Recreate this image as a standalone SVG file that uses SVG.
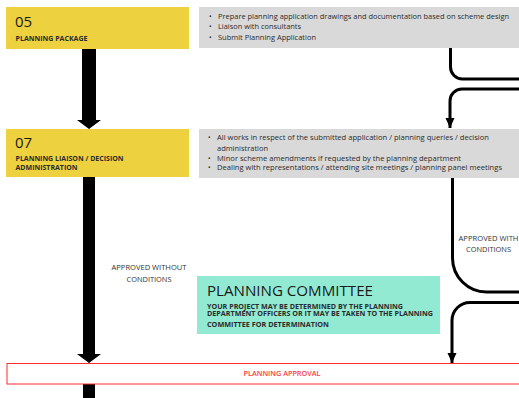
<svg xmlns="http://www.w3.org/2000/svg" width="519" height="398" viewBox="0 0 519 398">
<defs>
<style>
text{font-family:"Open Sans","DejaVu Sans",sans-serif;}
.yel{fill:#EDD13F;}
.gry{fill:#D9D9D9;}
.num{font-size:15px;fill:#1a1a1a;}
.ttl{font-size:6.4px;font-weight:bold;fill:#2b2b2b;}
.bul{font-size:6.8px;fill:#2b2b2b;}
.lbl{font-size:6.8px;fill:#333;text-anchor:middle;}
.con{fill:none;stroke:#000;stroke-width:3;}
.big{fill:#000;}
</style>
<marker id="ah" viewBox="0 0 10 10" refX="10" refY="5" markerWidth="10" markerHeight="10" markerUnits="userSpaceOnUse" orient="auto">
<path d="M0,0.5 L10,5 L0,9.5 Z" fill="#000"/>
</marker>
</defs>
<rect width="519" height="398" fill="#fff"/>

<g id="connectors">
<path class="big" d="M82,49 H96 V120 H101 L89,129 L77,120 H82 Z"/>
<path class="big" d="M83,177 H95 V354 H101 L89,363 L77,354 H83 Z"/>
<rect class="big" x="83" y="384" width="12" height="14"/>
<path class="con" d="M450.5,48 V67 A12,12 0 0 0 462.5,79 H519"/>
<path class="con" d="M519,89 H462 A12,12 0 0 0 450,101 V128" marker-end="url(#ah)"/>
<path class="con" d="M452.5,178 V258 A34,34 0 0 0 486.5,292 H519"/>
<path class="con" d="M519,302.5 H470 A18,18 0 0 0 452,320.5 V363" marker-end="url(#ah)"/>
<text class="lbl" x="149" y="270" textLength="75" lengthAdjust="spacingAndGlyphs">APPROVED WITHOUT</text>
<text class="lbl" x="149" y="282" textLength="45" lengthAdjust="spacingAndGlyphs">CONDITIONS</text>
<text class="lbl" x="488.5" y="240.5" textLength="60" lengthAdjust="spacingAndGlyphs">APPROVED WITH</text>
<text class="lbl" x="488.5" y="251.5" textLength="45" lengthAdjust="spacingAndGlyphs">CONDITIONS</text>
</g>

<g id="n05">
<rect class="yel" x="6" y="7" width="183" height="42"/>
<text class="num" x="15" y="27.3">05</text>
<text class="ttl" x="15.5" y="41" textLength="72" lengthAdjust="spacingAndGlyphs">PLANNING PACKAGE</text>
</g>

<g id="d05">
<rect class="gry" x="199" y="7" width="320" height="41"/>
<text class="bul" x="209" y="18.5">•</text>
<text class="bul" x="218" y="18.5" textLength="291" lengthAdjust="spacingAndGlyphs">Prepare planning application drawings and documentation based on scheme design</text>
<text class="bul" x="209" y="29">•</text>
<text class="bul" x="218" y="29" textLength="83" lengthAdjust="spacingAndGlyphs">Liaison with consultants</text>
<text class="bul" x="209" y="39.5">•</text>
<text class="bul" x="218" y="39.5" textLength="98" lengthAdjust="spacingAndGlyphs">Submit Planning Application</text>
</g>

<g id="n07">
<rect class="yel" x="6" y="129" width="183" height="48"/>
<text class="num" x="15" y="148.3">07</text>
<text class="ttl" x="15.5" y="161" textLength="108" lengthAdjust="spacingAndGlyphs">PLANNING LIAISON / DECISION</text>
<text class="ttl" x="15.5" y="170" textLength="62" lengthAdjust="spacingAndGlyphs">ADMINISTRATION</text>
</g>

<g id="d07">
<rect class="gry" x="199" y="129" width="320" height="49"/>
<text class="bul" x="208" y="139.5">•</text>
<text class="bul" x="217" y="139.5" textLength="272" lengthAdjust="spacingAndGlyphs">All works in respect of the submitted application / planning queries / decision</text>
<text class="bul" x="217" y="150.5" textLength="51" lengthAdjust="spacingAndGlyphs">administration</text>
<text class="bul" x="208" y="161">•</text>
<text class="bul" x="217" y="161" textLength="244" lengthAdjust="spacingAndGlyphs">Minor scheme amendments if requested by the planning department</text>
<text class="bul" x="208" y="169.5">•</text>
<text class="bul" x="217" y="169.5" textLength="285" lengthAdjust="spacingAndGlyphs">Dealing with representations / attending site meetings / planning panel meetings</text>
</g>

<g id="committee">
<rect x="197" y="276" width="243" height="58" fill="#93EAD3"/>
<text x="207" y="296" font-size="14" fill="#1a1a1a" textLength="166" lengthAdjust="spacingAndGlyphs">PLANNING COMMITTEE</text>
<text class="ttl" x="207" y="308.5" textLength="196" lengthAdjust="spacingAndGlyphs">YOUR PROJECT MAY BE DETERMINED BY THE PLANNING</text>
<text class="ttl" x="207" y="316" textLength="226" lengthAdjust="spacingAndGlyphs">DEPARTMENT OFFICERS OR IT MAY BE TAKEN TO THE PLANNING</text>
<text class="ttl" x="207" y="326.5" textLength="122" lengthAdjust="spacingAndGlyphs">COMMITTEE FOR DETERMINATION</text>
</g>

<g id="approval">
<rect x="7" y="363.5" width="513" height="20.5" fill="#fff" stroke="#FF2B2B" stroke-width="1"/>
<text x="282" y="376" font-size="6.8" fill="#FF3B3B" text-anchor="middle" font-weight="600" textLength="77" lengthAdjust="spacingAndGlyphs">PLANNING APPROVAL</text>
</g>
</svg>
